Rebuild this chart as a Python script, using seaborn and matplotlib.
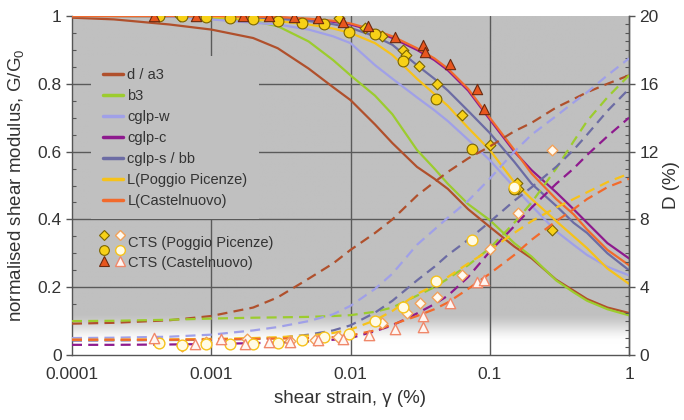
import numpy as np
import pandas as pd
import matplotlib
matplotlib.use("Agg")
import matplotlib.pyplot as plt
import seaborn as sns
from matplotlib.lines import Line2D
from matplotlib.ticker import MultipleLocator, LogLocator, NullFormatter, FixedLocator, FixedFormatter

sns.set_theme(style="white")
plt.rcParams['font.family'] = ['Liberation Sans', 'DejaVu Sans']
plt.rcParams['mathtext.fontset'] = 'custom'
plt.rcParams['mathtext.rm'] = 'Liberation Sans'

# ---------------- data ----------------
strain = [1e-4, 2e-4, 5e-4, 1e-3, 2e-3, 3e-3, 5e-3, 7.5e-3, 1e-2, 1.5e-2, 2e-2, 3e-2, 4e-2,
          5e-2, 7e-2, 0.1, 0.15, 0.2, 0.3, 0.4, 0.5, 0.7, 1.0]

names = ["d / a3", "b3", "cglp-w", "cglp-c", "cglp-s / bb",
         "L(Poggio Picenze)", "L(Castelnuovo)"]

g_da3   = [0.995, 0.99, 0.975, 0.96, 0.935, 0.905, 0.845, 0.79, 0.752, 0.68, 0.625, 0.555, 0.52, 0.49, 0.43, 0.378, 0.32, 0.285, 0.222, 0.19, 0.165, 0.14, 0.124]
g_b3    = [1.0, 1.0, 0.998, 0.995, 0.985, 0.97, 0.925, 0.87, 0.825, 0.765, 0.71, 0.605, 0.55, 0.505, 0.445, 0.398, 0.33, 0.29, 0.22, 0.185, 0.16, 0.135, 0.117]
g_cglpw = [1.0, 1.0, 0.998, 0.99, 0.98, 0.975, 0.96, 0.94, 0.92, 0.855, 0.815, 0.76, 0.722, 0.69, 0.635, 0.575, 0.495, 0.44, 0.365, 0.325, 0.295, 0.26, 0.235]
g_cglpc = [1.0, 1.0, 1.0, 1.0, 0.998, 0.996, 0.99, 0.983, 0.975, 0.955, 0.935, 0.9, 0.87, 0.84, 0.78, 0.695, 0.6, 0.545, 0.48, 0.43, 0.39, 0.33, 0.285]
g_cglps = [1.0, 1.0, 1.0, 0.998, 0.995, 0.992, 0.985, 0.976, 0.965, 0.94, 0.915, 0.855, 0.815, 0.78, 0.72, 0.655, 0.57, 0.505, 0.44, 0.39, 0.36, 0.30, 0.25]
g_lpp   = [1.0, 1.0, 1.0, 0.998, 0.99, 0.985, 0.975, 0.963, 0.95, 0.92, 0.885, 0.815, 0.77, 0.735, 0.67, 0.605, 0.51, 0.46, 0.395, 0.35, 0.315, 0.255, 0.21]
g_lcn   = [1.0, 1.0, 1.0, 1.0, 0.998, 0.997, 0.992, 0.986, 0.978, 0.958, 0.94, 0.905, 0.875, 0.845, 0.785, 0.70, 0.605, 0.535, 0.46, 0.415, 0.37, 0.31, 0.265]

d_da3   = [1.85, 1.9, 2.05, 2.3, 2.8, 3.4, 4.5, 5.4, 6.2, 7.2, 8.0, 9.4, 10.2, 10.8, 11.6, 12.3, 13.2, 13.7, 14.6, 15.1, 15.5, 16.0, 16.5]
d_b3    = [2.0, 2.02, 2.08, 2.15, 2.2, 2.22, 2.25, 2.3, 2.35, 2.55, 2.8, 3.5, 4.0, 4.5, 5.3, 6.3, 7.8, 9.0, 11.0, 12.6, 13.8, 15.2, 16.5]
d_cglpw = [1.0, 1.02, 1.08, 1.2, 1.45, 1.65, 2.0, 2.4, 2.9, 3.9, 4.8, 6.5, 7.4, 8.1, 9.1, 10.4, 12.0, 13.0, 14.1, 14.9, 15.5, 16.5, 17.5]
d_cglpc = [0.6, 0.6, 0.62, 0.65, 0.7, 0.73, 0.8, 0.9, 1.0, 1.4, 1.75, 2.45, 3.0, 3.5, 4.6, 6.1, 7.6, 8.7, 10.1, 11.0, 11.8, 12.9, 14.0]
d_cglps = [0.85, 0.86, 0.88, 0.9, 0.95, 1.0, 1.2, 1.45, 1.75, 2.5, 3.2, 4.4, 5.2, 5.9, 6.8, 7.85, 9.1, 9.9, 11.1, 12.1, 13.0, 14.4, 15.7]
d_lpp   = [0.9, 0.9, 0.92, 0.95, 1.0, 1.05, 1.15, 1.3, 1.5, 2.05, 2.6, 3.6, 4.1, 4.6, 5.4, 6.2, 7.2, 7.9, 8.7, 9.2, 9.6, 10.2, 10.7]
d_lcn   = [0.9, 0.9, 0.9, 0.92, 0.95, 0.97, 1.0, 1.05, 1.15, 1.45, 1.8, 2.3, 2.7, 3.1, 3.9, 4.8, 5.9, 6.8, 7.9, 8.6, 9.2, 9.9, 10.4]

# CTS Poggio Picenze - circles
pp_c_strain = [0.00042, 0.00062, 0.00092, 0.00136, 0.002, 0.003, 0.0045, 0.0064, 0.0097, 0.015, 0.024, 0.041, 0.075, 0.15]
pp_c_G      = [1.0, 1.0, 0.997, 0.994, 0.99, 0.985, 0.98, 0.976, 0.953, 0.947, 0.867, 0.755, 0.608, 0.49]
pp_c_D      = [0.69, 0.59, 0.65, 0.65, 0.65, 0.73, 0.88, 1.04, 1.24, 2.02, 2.85, 4.38, 6.8, 9.9]
# CTS Poggio Picenze - diamonds
pp_d_strain_G = [0.00042, 0.0006, 0.0083, 0.0127, 0.0168, 0.024, 0.025, 0.031, 0.042, 0.063, 0.1, 0.157, 0.16, 0.28]
pp_d_G        = [1.0, 1.0, 0.995, 0.965, 0.941, 0.9, 0.885, 0.853, 0.80, 0.708, 0.62, 0.507, 0.49, 0.37]
pp_d_strain_D = [0.00062, 0.00091, 0.0018, 0.0037, 0.0056, 0.0082, 0.0169, 0.0253, 0.0314, 0.0418, 0.063, 0.1, 0.16, 0.28]
pp_d_D        = [0.53, 0.79, 0.94, 0.83, 0.88, 1.08, 1.87, 2.46, 3.05, 3.4, 4.7, 6.25, 8.4, 12.1]
# CTS Castelnuovo - triangles
cn_strain_G = [0.00039, 0.00078, 0.0017, 0.0026, 0.0039, 0.0058, 0.0088, 0.0133, 0.0208, 0.033, 0.034, 0.052, 0.081, 0.091]
cn_G        = [1.0, 1.0, 1.0, 1.0, 0.997, 0.994, 0.982, 0.97, 0.938, 0.914, 0.894, 0.858, 0.785, 0.725]
cn_strain_D = [0.00039, 0.00076, 0.00117, 0.00175, 0.0026, 0.0037, 0.0058, 0.0088, 0.0136, 0.021, 0.033, 0.033, 0.052, 0.081, 0.091]
cn_D        = [0.98, 0.65, 0.94, 0.65, 0.77, 0.77, 0.88, 0.94, 1.18, 1.53, 1.65, 2.3, 3.05, 4.3, 4.4]

x_ticks = [1e-4, 1e-3, 1e-2, 1e-1, 1]
x_ticklabels = ["0.0001", "0.001", "0.01", "0.1", "1"]

colors = ["#b0502c", "#9ccc2e", "#a0a0e8", "#8e1a8e", "#6c6ca4", "#f6c21a", "#f26a2c"]
G_all = [g_da3, g_b3, g_cglpw, g_cglpc, g_cglps, g_lpp, g_lcn]
D_all = [d_da3, d_b3, d_cglpw, d_cglpc, d_cglps, d_lpp, d_lcn]

# ---------------- figure ----------------
W, H = 684, 420
fig = plt.figure(figsize=(W / 100, H / 100), dpi=100)
fig.patch.set_facecolor("white")
L, R, T, B = 72, 629, 16, 355
ax = fig.add_axes([L / W, 1 - B / H, (R - L) / W, (B - T) / H])
ax.set_xscale("log")

bg = "#c0c0c0"
ax.set_facecolor(bg)
# vertical gradient near the bottom (white -> gray)
fr = np.linspace(0, 1, 400)
t = np.clip((fr - 0.035) / (0.125 - 0.035), 0, 1)
t = t * t * (3 - 2 * t)
c_bg = np.array(matplotlib.colors.to_rgb(bg))
img = (1 - t)[:, None] * np.ones(3)[None, :] + t[:, None] * c_bg[None, :]
img = np.repeat(img[:, None, :], 2, axis=1)
ax.imshow(img, extent=[0, 1, 0, 1], transform=ax.transAxes, origin="lower",
          aspect="auto", zorder=0, interpolation="bilinear")

ax2 = ax.twinx()

text_c = "#333333"
axis_c = "#555555"

for nm, col, g, d in zip(names, colors, G_all, D_all):
    sns.lineplot(x=strain, y=g, ax=ax, color=col, lw=1.6, label=nm, zorder=3)
    sns.lineplot(x=strain, y=d, ax=ax2, color=col, lw=1.6, legend=False, zorder=3)
for ln in ax2.get_lines():
    ln.set_dashes([4.5, 2.8])

# markers (filled: G/G0 on left axis; open: D on right axis)
f_yel, e_yel = "#f7d117", "#7a6400"
f_red, e_red = "#e8561e", "#6b2a10"
sns.scatterplot(x=pp_d_strain_G, y=pp_d_G, ax=ax, marker="D", s=30, color=f_yel, edgecolor=e_yel, linewidth=0.8, zorder=5)
sns.scatterplot(x=pp_c_strain, y=pp_c_G, ax=ax, marker="o", s=60, color=f_yel, edgecolor=e_yel, linewidth=0.8, zorder=5)
sns.scatterplot(x=cn_strain_G, y=cn_G, ax=ax, marker="^", s=55, color=f_red, edgecolor=e_red, linewidth=0.8, zorder=5)
sns.scatterplot(x=pp_d_strain_D, y=pp_d_D, ax=ax2, marker="D", s=30, color="#fffaf0", edgecolor="#f2a25a", linewidth=1.0, zorder=5)
sns.scatterplot(x=pp_c_strain, y=pp_c_D, ax=ax2, marker="o", s=60, color="#fffbe6", edgecolor="#f6c21a", linewidth=1.0, zorder=5)
sns.scatterplot(x=cn_strain_D, y=cn_D, ax=ax2, marker="^", s=55, color="#fff6f2", edgecolor="#f0886a", linewidth=1.0, zorder=5)

# ---------------- axes ----------------
ax.set_xlim(1e-4, 1)
ax.set_ylim(0, 1)
ax2.set_ylim(0, 20)
ax.xaxis.set_major_locator(FixedLocator(x_ticks))
ax.xaxis.set_major_formatter(FixedFormatter(x_ticklabels))
ax.xaxis.set_minor_locator(LogLocator(base=10, subs=np.arange(2, 10)))
ax.xaxis.set_minor_formatter(NullFormatter())
ax.set_yticks([0, 0.2, 0.4, 0.6, 0.8, 1.0])
ax.set_yticklabels(["0", "0.2", "0.4", "0.6", "0.8", "1"])
ax.yaxis.set_minor_locator(MultipleLocator(0.05))
ax2.set_yticks([0, 4, 8, 12, 16, 20])
ax2.yaxis.set_minor_locator(MultipleLocator(0.5))

ax.grid(True, which="major", axis="both", color="#5a5a5a", lw=1.0, zorder=1)
ax.set_axisbelow(True)

for a in (ax, ax2):
    for s in a.spines.values():
        s.set_color(axis_c)
        s.set_linewidth(1.0)
    a.spines["top"].set_visible(False)
ax2.spines["left"].set_visible(False)
ax2.spines["bottom"].set_visible(False)

ax.tick_params(axis="both", which="major", labelsize=12.5, colors=axis_c, labelcolor=text_c)
ax.tick_params(axis="x", which="major", direction="out", length=5, width=1)
ax.tick_params(axis="x", which="minor", direction="out", length=3, width=0.8, colors=axis_c)
ax.tick_params(axis="y", which="major", direction="out", length=4, width=1)
ax.tick_params(axis="y", which="minor", direction="in", length=3, width=0.8, colors=axis_c)
ax2.tick_params(axis="y", which="major", direction="out", length=4, width=1, labelsize=12.5,
                colors=axis_c, labelcolor=text_c)
ax2.tick_params(axis="y", which="minor", direction="in", length=3, width=0.8, colors=axis_c)

ax.set_xlabel("shear strain, \u03b3 (%)", fontsize=13.5, color=text_c, labelpad=6)
ax.set_ylabel("normalised shear modulus, G/G$\\mathregular{_0}$", fontsize=13.5, color=text_c, labelpad=8)
ax2.set_ylabel("D (%)", fontsize=13.5, color=text_c, labelpad=3)

# ---------------- legends ----------------
fs = 10.5
h, l = ax.get_legend_handles_labels()
leg1 = ax.legend(h, l, loc="upper left", bbox_to_anchor=(0.0347, 0.882), fontsize=fs,
                 frameon=True, facecolor=bg, edgecolor="none", framealpha=1.0,
                 handlelength=1.37, handletextpad=0.3, labelspacing=0.48,
                 borderpad=0.8, borderaxespad=0.0, fancybox=False)
for tx in leg1.get_texts():
    tx.set_color(text_c)
for lh in leg1.get_lines():
    lh.set_linewidth(2.5)
leg1.set_zorder(6)


class MultiMarker:
    def __init__(self, spec):
        self.spec = spec

    def legend_artist(self, legend, orig_handle, fontsize, handlebox):
        x0, y0 = handlebox.xdescent, handlebox.ydescent
        w, hh = handlebox.width, handlebox.height
        art = None
        for fx, fy, kw in self.spec:
            art = Line2D([-x0 + fx * w], [-y0 + fy * hh], linestyle="none", **kw)
            handlebox.add_artist(art)
        return art


k_fd = dict(marker="D", markersize=5.5, markerfacecolor=f_yel, markeredgecolor=e_yel, markeredgewidth=0.8)
k_od = dict(marker="D", markersize=5.5, markerfacecolor="#fffaf0", markeredgecolor="#f2a25a", markeredgewidth=1.0)
k_fc = dict(marker="o", markersize=7, markerfacecolor=f_yel, markeredgecolor=e_yel, markeredgewidth=0.8)
k_oc = dict(marker="o", markersize=7, markerfacecolor="#fffbe6", markeredgecolor="#f6c21a", markeredgewidth=1.0)
k_ft = dict(marker="^", markersize=7, markerfacecolor=f_red, markeredgecolor=e_red, markeredgewidth=0.8)
k_ot = dict(marker="^", markersize=7, markerfacecolor="#fff6f2", markeredgecolor="#f0886a", markeredgewidth=1.0)

hpp = Line2D([], [])
hcn = Line2D([], [])
hmap = {
    hpp: MultiMarker([(0.21, 1.25, k_fd), (0.9, 1.25, k_od), (0.21, -0.25, k_fc), (0.9, -0.25, k_oc)]),
    hcn: MultiMarker([(0.21, 0.5, k_ft), (0.9, 0.5, k_ot)]),
}
leg2 = ax.legend([hpp, hcn], ["CTS (Poggio Picenze)", "CTS (Castelnuovo)"], handler_map=hmap,
                 loc="center left", bbox_to_anchor=(0.0485, 0.301), fontsize=fs, frameon=False,
                 handlelength=1.6, handletextpad=0.38, labelspacing=0.35, borderpad=0.0,
                 borderaxespad=0.0)
for tx in leg2.get_texts():
    tx.set_color(text_c)
ax.add_artist(leg1)
leg2.set_zorder(7)

fig.canvas.draw()
ygl = ax.get_ygridlines()
ygl[0].set_visible(False)
ygl[-1].set_visible(False)
xgl = ax.get_xgridlines()
xgl[0].set_visible(False)
xgl[-1].set_visible(False)

fig.savefig("out.png", dpi=100)
